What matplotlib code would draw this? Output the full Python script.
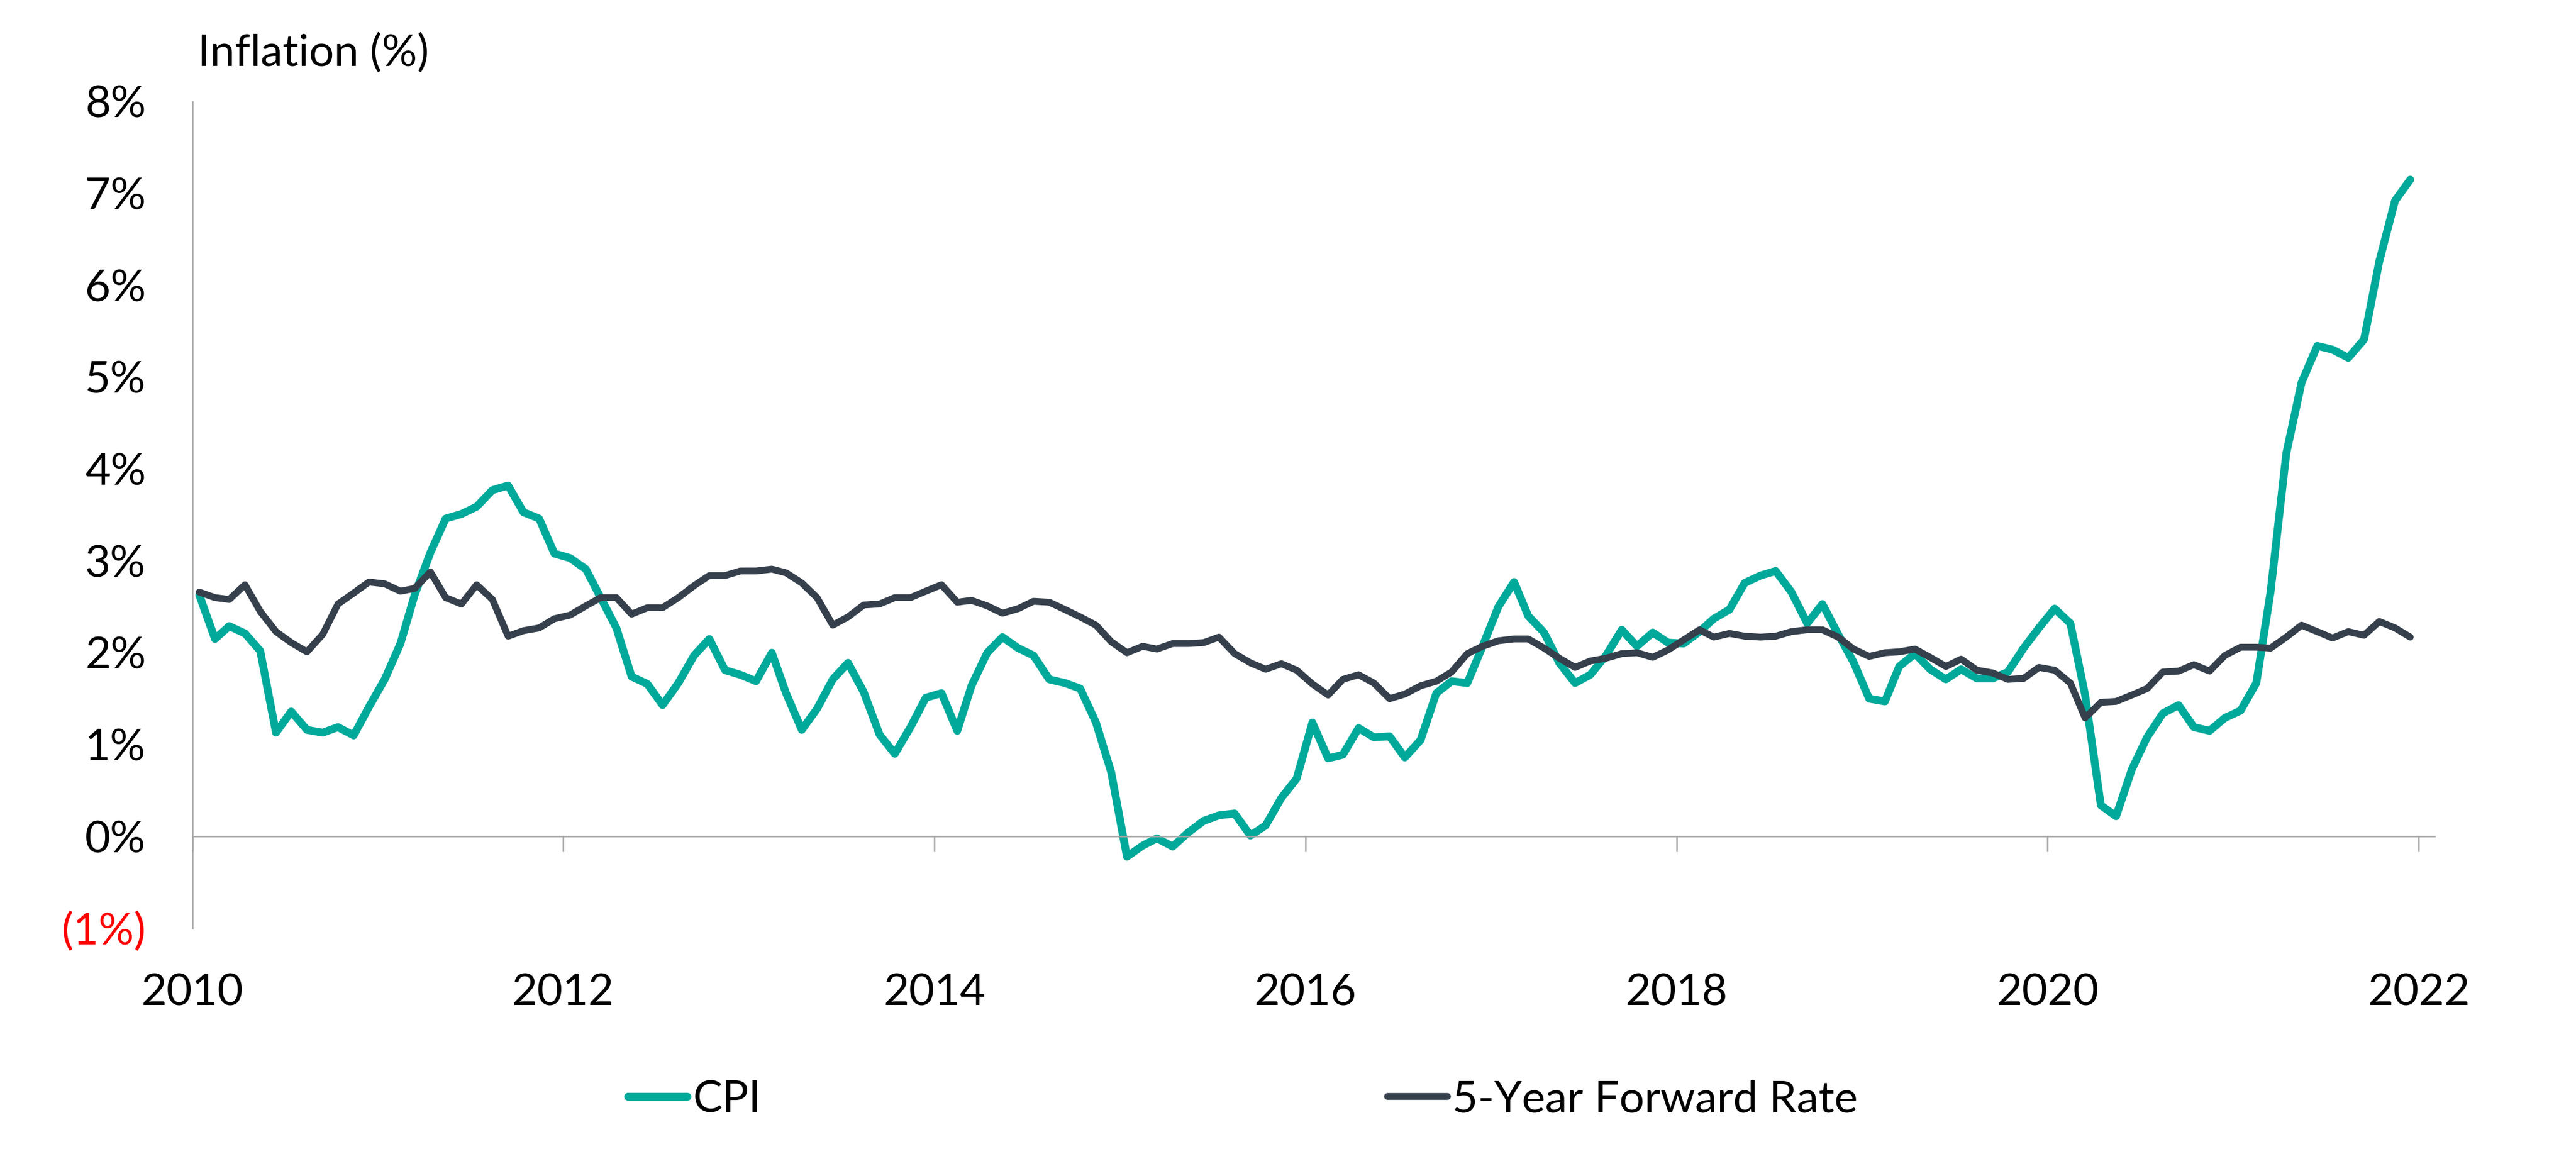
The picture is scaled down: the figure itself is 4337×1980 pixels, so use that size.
import numpy as np
import pandas as pd
import matplotlib
matplotlib.use("Agg")
import matplotlib.pyplot as plt
import matplotlib.dates as mdates

plt.rcParams['font.family'] = ['Lato', 'DejaVu Sans']

# monthly, Jan 2010 .. Dec 2021 (%)
months = pd.date_range("2010-01-01", "2021-12-01", freq="MS") + pd.Timedelta(days=14)

cpi = [
    2.63, 2.15, 2.29, 2.21, 2.02, 1.13, 1.36, 1.16, 1.13, 1.19, 1.10, 1.41,   # 2010
    1.71, 2.10, 2.63, 3.09, 3.46, 3.51, 3.59, 3.77, 3.82, 3.53, 3.46, 3.08,   # 2011
    3.03, 2.91, 2.60, 2.27, 1.74, 1.66, 1.43, 1.67, 1.97, 2.15, 1.81, 1.76,   # 2012
    1.69, 2.00, 1.56, 1.16, 1.39, 1.71, 1.89, 1.57, 1.11, 0.90, 1.19, 1.51,   # 2013
    1.56, 1.15, 1.64, 2.00, 2.17, 2.05, 1.97, 1.71, 1.67, 1.61, 1.24, 0.70,   # 2014
    -0.22, -0.10, -0.02, -0.11, 0.04, 0.17, 0.23, 0.25, 0.01, 0.12, 0.42, 0.63,  # 2015
    1.24, 0.85, 0.89, 1.18, 1.08, 1.09, 0.86, 1.05, 1.56, 1.69, 1.67, 2.07,   # 2016
    2.50, 2.77, 2.40, 2.22, 1.89, 1.67, 1.76, 1.97, 2.25, 2.07, 2.22, 2.11,   # 2017
    2.10, 2.23, 2.37, 2.47, 2.76, 2.84, 2.89, 2.66, 2.32, 2.53, 2.20, 1.90,   # 2018
    1.50, 1.47, 1.85, 1.99, 1.82, 1.71, 1.82, 1.72, 1.72, 1.79, 2.05, 2.27,   # 2019
    2.48, 2.32, 1.54, 0.34, 0.22, 0.73, 1.08, 1.34, 1.43, 1.19, 1.15, 1.29,   # 2020
    1.37, 1.67, 2.66, 4.17, 4.94, 5.34, 5.30, 5.21, 5.41, 6.26, 6.92, 7.15,   # 2021
]

fwd = [
    2.66, 2.60, 2.58, 2.74, 2.45, 2.23, 2.11, 2.01, 2.20, 2.53, 2.65, 2.77,   # 2010
    2.75, 2.67, 2.70, 2.88, 2.60, 2.53, 2.74, 2.58, 2.18, 2.24, 2.27, 2.37,   # 2011
    2.41, 2.51, 2.60, 2.60, 2.42, 2.49, 2.49, 2.60, 2.73, 2.84, 2.84, 2.89,   # 2012
    2.89, 2.91, 2.87, 2.76, 2.60, 2.30, 2.39, 2.52, 2.53, 2.60, 2.60, 2.67,   # 2013
    2.74, 2.55, 2.57, 2.51, 2.43, 2.48, 2.56, 2.55, 2.47, 2.39, 2.30, 2.12,   # 2014
    2.00, 2.07, 2.04, 2.10, 2.10, 2.11, 2.17, 1.99, 1.89, 1.82, 1.88, 1.81,   # 2015
    1.66, 1.54, 1.71, 1.76, 1.67, 1.50, 1.55, 1.64, 1.69, 1.79, 1.99, 2.07,   # 2016
    2.13, 2.15, 2.15, 2.05, 1.94, 1.84, 1.91, 1.94, 1.99, 2.00, 1.95, 2.03,   # 2017
    2.14, 2.25, 2.17, 2.21, 2.18, 2.17, 2.18, 2.23, 2.25, 2.25, 2.17, 2.04,   # 2018
    1.96, 2.00, 2.01, 2.04, 1.95, 1.85, 1.93, 1.81, 1.78, 1.71, 1.72, 1.84,   # 2019
    1.81, 1.67, 1.29, 1.46, 1.47, 1.54, 1.61, 1.79, 1.80, 1.87, 1.80, 1.97,   # 2020
    2.06, 2.06, 2.05, 2.17, 2.30, 2.23, 2.16, 2.23, 2.19, 2.34, 2.27, 2.17,   # 2021
]

y_ticks = [-1, 0, 1, 2, 3, 4, 5, 6, 7, 8]
y_labels = ["(1%)", "0%", "1%", "2%", "3%", "4%", "5%", "6%", "7%", "8%"]

TEAL = "#00A99A"
DARK = "#36404C"
GREY = "#A6A6A6"
FS = 53.5

fig = plt.figure(figsize=(43.37, 19.8), dpi=100)
ax = fig.add_axes([323.5 / 4337, 1 - 1563 / 1980, (4099 - 323.5) / 4337, (1563 - 171) / 1980])

ax.plot(months, cpi, color=TEAL, lw=9.5, solid_capstyle="round", solid_joinstyle="round", label="CPI")
ax.plot(months, fwd, color=DARK, lw=8.3, solid_capstyle="round", solid_joinstyle="round",
        label="5-Year Forward Rate")

ax.set_ylim(-1, 8)
ax.set_xlim(pd.Timestamp("2010-01-01"), pd.Timestamp("2022-02-01"))

ax.set_yticks(y_ticks)
ax.set_yticklabels(y_labels)
ax.get_yticklabels()[0].set_color("red")
ax.tick_params(axis="y", length=0, pad=56, labelsize=FS)

ax.xaxis.set_major_locator(mdates.YearLocator(2))
ax.xaxis.set_major_formatter(mdates.DateFormatter("%Y"))
ax.tick_params(axis="x", direction="out", length=19, width=1.8, color=GREY, pad=147, labelsize=FS)

for s in ["top", "right"]:
    ax.spines[s].set_visible(False)
ax.spines["bottom"].set_position(("data", 0))
for s in ["bottom", "left"]:
    ax.spines[s].set_color(GREY)
    ax.spines[s].set_linewidth(1.8)

fig.text(333 / 4337, 1 - 111 / 1980, "Inflation (%)", fontsize=FS, ha="left", va="baseline")

fig.legend(loc="center left", bbox_to_anchor=(1057 / 4337, 1 - 1852 / 1980), ncol=2, frameon=False,
           fontsize=FS, handlelength=1.35, handletextpad=0.12, columnspacing=14.2,
           borderpad=0, borderaxespad=0)

fig.savefig("out.png", dpi=100)
